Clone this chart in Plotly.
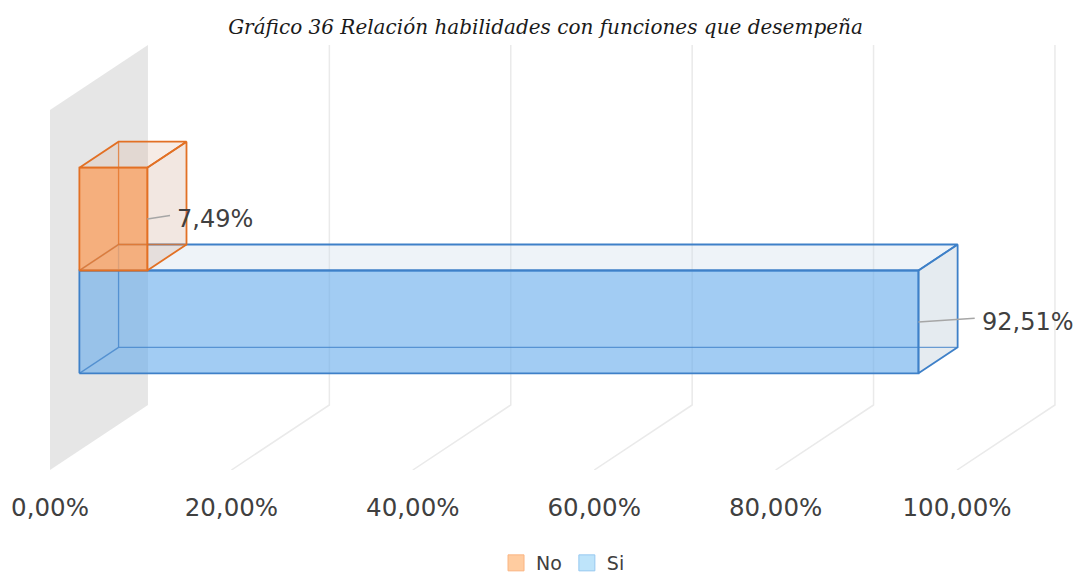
import plotly.graph_objects as go

# ---------------- data ----------------
categories = ["No", "Si"]
values = [7.49, 92.51]
label_texts = ["7,49%", "92,51%"]
tick_values = [0, 20, 40, 60, 80, 100]
tick_labels = ["0,00%", "20,00%", "40,00%", "60,00%", "80,00%", "100,00%"]
title_text = "Gráfico 36 Relación habilidades con funciones que desempeña"

# ---------------- style ----------------
face_front = ["rgba(249,161,99,0.80)", "rgba(100,170,235,0.60)"]
face_top = ["rgba(215,170,140,0.22)", "rgba(206,221,235,0.35)"]
face_side = ["rgba(205,160,135,0.25)", "rgba(190,205,217,0.40)"]
edge_col = ["rgb(226,112,36)", "rgb(62,128,200)"]
hidden_col = ["rgba(226,112,36,0.75)", "rgba(62,128,200,0.75)"]
legend_fill = ["rgb(255,204,160)", "rgb(190,228,250)"]
legend_edge = ["rgb(250,180,130)", "rgb(150,200,240)"]
label_dx = [2.5, 6.2]          # leader-line length (axis units)
WALL = "rgb(230,230,230)"
GRID = "rgb(234,234,234)"
TXT = "#404040"

DX, DY = 10.8, 0.1806          # oblique shift for full depth
D0, D1 = 0.3, 0.7              # bar depth span
GAP = 1.5                      # gap width relative to bar


def P(v, h, d):
    return v + d * DX, h + d * DY


def poly(pts):
    xs, ys = zip(*[P(*p) for p in pts])
    return list(xs), list(ys)


fig = go.Figure()

# left wall
xs, ys = poly([(0, 0, 0), (0, 1, 0), (0, 1, 1), (0, 0, 1), (0, 0, 0)])
fig.add_trace(go.Scatter(x=xs, y=ys, fill="toself", fillcolor=WALL, mode="lines",
                         line=dict(width=0), hoverinfo="skip", showlegend=False))

# gridlines (floor + back wall)
for tv in tick_values[1:]:
    xs, ys = poly([(tv, 0, 0), (tv, 0, 1), (tv, 1, 1)])
    fig.add_trace(go.Scatter(x=xs, y=ys, mode="lines", line=dict(color=GRID, width=1.5),
                             hoverinfo="skip", showlegend=False))

# bars
w = 1.0 / (2 + GAP)
n = len(categories)
order = list(range(n))[::-1]   # draw lower bar first
for i in order:
    slot = n - 1 - i
    h0 = GAP / 2 * w + slot * w
    h1 = h0 + w
    v0, v1 = 0, values[i]
    ec = edge_col[i]
    faces = [
        ([(v0, h1, D0), (v1, h1, D0), (v1, h1, D1), (v0, h1, D1), (v0, h1, D0)], face_top[i]),
        ([(v1, h0, D0), (v1, h0, D1), (v1, h1, D1), (v1, h1, D0), (v1, h0, D0)], face_side[i]),
        ([(v0, h0, D0), (v1, h0, D0), (v1, h1, D0), (v0, h1, D0), (v0, h0, D0)], face_front[i]),
    ]
    for pts, fc in faces:
        xs, ys = poly(pts)
        fig.add_trace(go.Scatter(x=xs, y=ys, fill="toself", fillcolor=fc, mode="lines",
                                 line=dict(color=ec, width=1.8), hoverinfo="skip",
                                 showlegend=False))
    # hidden (back) edges, seen through the translucent faces
    for seg in [[(v0, h0, D0), (v0, h0, D1)], [(v0, h0, D1), (v1, h0, D1)], [(v0, h0, D1), (v0, h1, D1)]]:
        xs, ys = poly(seg)
        fig.add_trace(go.Scatter(x=xs, y=ys, mode="lines", line=dict(color=hidden_col[i], width=1.3),
                                 hoverinfo="skip", showlegend=False))
    # leader line + label
    hm = (h0 + h1) / 2
    sx, sy = P(v1, hm, D0)
    ex, ey = sx + label_dx[i], sy + 0.01
    fig.add_trace(go.Scatter(x=[sx, ex], y=[sy, ey], mode="lines",
                             line=dict(color="rgb(166,166,166)", width=1.5),
                             hoverinfo="skip", showlegend=False))
    fig.add_annotation(x=ex + 0.6, y=sy, text=label_texts[i], showarrow=False,
                       xanchor="left", yanchor="middle",
                       font=dict(family="DejaVu Sans", size=24, color=TXT))

# legend entries
for i, c in enumerate(categories):
    fig.add_trace(go.Scatter(x=[None], y=[None], mode="markers", name=c,
                             marker=dict(symbol="square", size=16, color=legend_fill[i],
                                         line=dict(color=legend_edge[i], width=1))))

PXU = 9.07  # pixels per percent
H = 576
fig.update_layout(
    width=1075, height=H,
    margin=dict(l=0, r=0, t=32, b=114),
    paper_bgcolor="white", plot_bgcolor="white",
    title=dict(text=title_text, x=0.5, xanchor="center", y=1 - 19 / H, yanchor="middle",
               font=dict(family="DejaVu Serif", size=20, style="italic", color="#1a1a1a")),
    xaxis=dict(range=[-42 / PXU, 1033 / PXU], tickvals=tick_values, ticktext=tick_labels,
               showgrid=False, zeroline=False, showline=False, ticks="outside",
               ticklen=16, tickcolor="rgba(0,0,0,0)",
               tickfont=dict(family="DejaVu Sans", size=24.5, color=TXT), fixedrange=True),
    yaxis=dict(range=[0, 430 / 360], visible=False, fixedrange=True),
    legend=dict(orientation="h", x=0.5163, xanchor="center", yref="container",
                y=1 - 555 / H, yanchor="middle",
                font=dict(family="DejaVu Sans", size=19, color=TXT), itemwidth=30,
                traceorder="normal"),
    hovermode=False,
)

fig.write_html("out.html")
